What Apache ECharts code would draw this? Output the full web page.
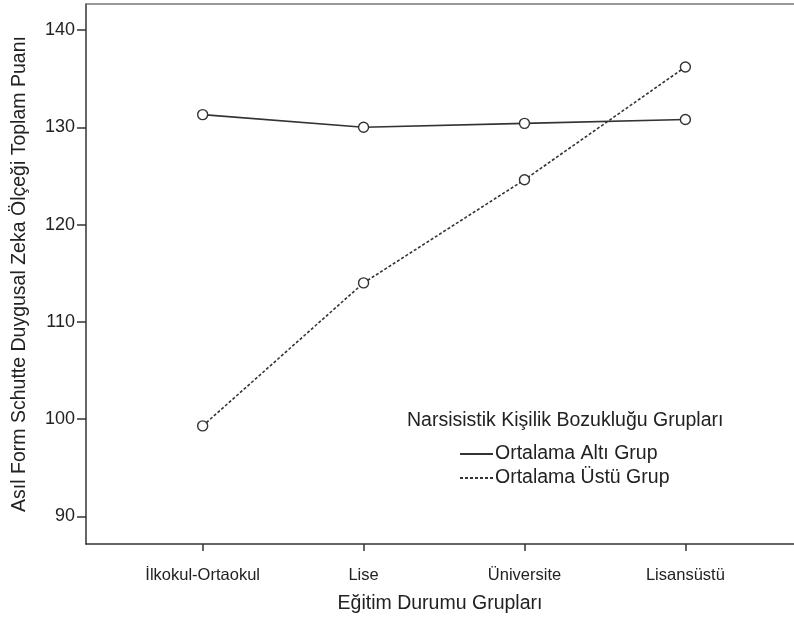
<!DOCTYPE html>
<html><head><meta charset="utf-8">
<script src="https://cdn.jsdelivr.net/npm/echarts@6/dist/echarts.min.js"></script>
<style>html,body{margin:0;padding:0;background:#fff}#c{width:794px;height:617px}</style>
</head><body><div id="c"></div>
<script>
const categories = ['İlkokul-Ortaokul', 'Lise', 'Üniversite', 'Lisansüstü'];
const altGrup = [131.3, 130.0, 130.4, 130.8];
const ustGrup = [99.3, 114.0, 124.6, 136.2];
const yTicks = [90, 100, 110, 120, 130, 140];
const seriesNames = ['Ortalama Altı Grup', 'Ortalama Üstü Grup'];
const legendTitle = 'Narsisistik Kişilik Bozukluğu Grupları';
const xTitle = 'Eğitim Durumu Grupları';
const yTitle = 'Asıl Form Schutte Duygusal Zeka Ölçeği Toplam Puanı';

const FONT = 'Liberation Sans';
const ink = '#333';
const txt = '#222';
const chart = echarts.init(document.getElementById('c'), null, {renderer: 'canvas'});
const toPts = arr => arr.map((v, i) => [i, v]);
chart.setOption({
  animation: false,
  backgroundColor: '#fff',
  textStyle: {fontFamily: FONT},
  title: {
    text: legendTitle, left: 402, top: 406,
    textStyle: {fontFamily: FONT, fontSize: 19.5, fontWeight: 'normal', color: txt}
  },
  legend: {
    orient: 'vertical', left: 454, top: 439, itemGap: 4,
    itemWidth: 33, itemHeight: 12,
    textStyle: {fontFamily: FONT, fontSize: 19.5, color: txt, padding: [0, 0, 0, -3]},
    itemStyle: {opacity: 0},
    data: seriesNames
  },
  grid: {left: 86, right: 0, top: 4, bottom: 73, containLabel: false, outerBoundsMode: 'none'},
  xAxis: [{
    type: 'value', min: -0.725, max: 3.675,
    name: xTitle, nameLocation: 'middle', nameGap: 50,
    nameTextStyle: {fontFamily: FONT, fontSize: 19.5, color: txt},
    splitLine: {show: false},
    axisLine: {onZero: false, lineStyle: {color: ink, width: 1.5}},
    axisTick: {show: true, length: 7, customValues: [0, 1, 2, 3], lineStyle: {color: ink, width: 1.5}},
    axisLabel: {customValues: [0, 1, 2, 3], margin: 23, fontFamily: FONT, fontSize: 16.5, color: txt,
      formatter: v => categories[Math.round(v)]}
  }, {
    type: 'value', position: 'top', min: -0.725, max: 3.675,
    splitLine: {show: false}, axisTick: {show: false}, axisLabel: {show: false},
    axisLine: {show: true, onZero: false, lineStyle: {color: '#777', width: 1.5}}
  }],
  yAxis: {
    type: 'value', min: 87.16, max: 142.67,
    name: yTitle, nameLocation: 'middle', nameGap: 56, nameRotate: 90,
    nameTextStyle: {fontFamily: FONT, fontSize: 19.5, color: txt},
    splitLine: {show: false},
    axisLine: {show: true, onZero: false, lineStyle: {color: ink, width: 1.5}},
    axisTick: {show: true, length: 9, customValues: yTicks, lineStyle: {color: ink, width: 1.5}},
    axisLabel: {customValues: yTicks, margin: 11, fontFamily: FONT, fontSize: 18, color: txt}
  },
  series: [{
    name: seriesNames[0], type: 'line', data: toPts(altGrup),
    symbol: 'circle', symbolSize: 10,
    lineStyle: {color: ink, width: 1.6, type: 'solid'},
    itemStyle: {color: '#fff', borderColor: ink, borderWidth: 1.4}
  }, {
    name: seriesNames[1], type: 'line', data: toPts(ustGrup),
    symbol: 'circle', symbolSize: 10,
    lineStyle: {color: ink, width: 1.6, type: [3, 2]},
    itemStyle: {color: '#fff', borderColor: ink, borderWidth: 1.4}
  }]
});
</script></body></html>
